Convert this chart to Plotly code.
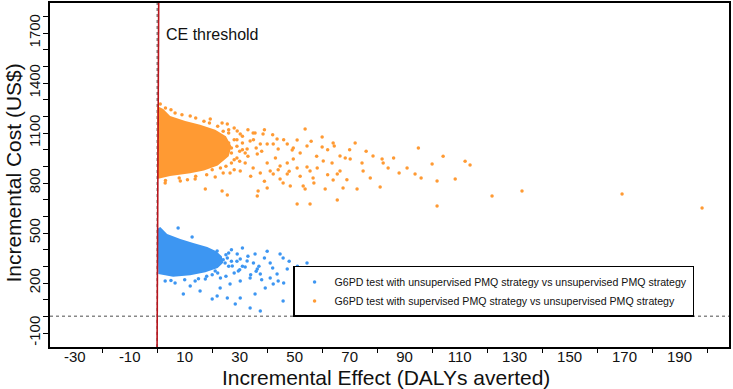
import plotly.graph_objects as go

# ---------------- data ----------------
series_names = [
    "G6PD test with unsupervised PMQ strategy vs unsupervised PMQ strategy",
    "G6PD test with supervised PMQ strategy vs unsupervised PMQ strategy",
]

# dense core envelope of each simulation cloud (effect, cost)
blue_core_x = [0, 1.1, 3.6, 8.4, 13.1, 18.2, 21.5, 23.5, 24.0, 22.0, 17.5, 12.0, 5.8, 0.4]
blue_core_y = [524, 536, 494, 464, 440, 416, 390, 360, 322, 290, 264, 246, 238, 254]

orange_core_x = [0, 2.2, 4.7, 10.2, 15.6, 21.1, 25.0, 27.0, 26.0, 22.0, 17.0, 12.0, 4.7, 0]
orange_core_y = [1262, 1244, 1202, 1172, 1150, 1120, 1080, 1020, 960, 905, 875, 858, 842, 824]

# individual simulations outside the dense core
blue_x = [7.6, 12.7, 21.8, 25.5, 29.1, 30.2, 32.7, 35.6, 41.1, 44.7, 45.8, 47.3, 54.5, 36.4,
          37.5, 33.8, 30.2, 26.5, 22.9, 20.0, 21.8, 15.6, 9.5, 12.0, 28.4, 33.8, 37.5, 42.2,
          44.0, 45.8, 41.1, 43.6, 50.2, 68.4, 35.6, 30.2, 25.5, 39.3, 24.7, 27.3, 21.1, 17.5,
          13.8, 6.5, 2.9, 29.5, 32.0,
          27, 29, 31, 33, 35, 37, 39, 42, 48, 51, 28, 30, 34, 38, 46, 52, 55, 58, 25, 23,
          26, 31, 40, 36, 24, 26, 22, 20, 18, 15, 10, 5, 27, 25]
blue_y = [530, 476, 392, 350, 374, 344, 332, 374, 320, 374, 350, 284, 320, 284,
          254, 230, 212, 194, 170, 104, 122, 152, 134, 182, 74, 50, 32, 194,
          212, 92, 230, 254, 32, 20, 134, 110, 110, 170, 320, 302, 272, 224,
          212, 200, 212, 272, 296,
          400, 330, 300, 360, 320, 300, 350, 290, 330, 300, 260, 280, 250, 220, 200, 170, 260, 280, 240, 230,
          380, 410, 390, 270, 340, 300, 260, 250, 240, 225, 220, 215, 330, 370]

orange_x = [53.8, 60.0, 64.0, 64.4, 60.0, 54.5, 50.9, 47.3, 49.5, 49.1, 43.6, 42.2, 44.0, 38.5,
            35.6, 40.0, 66.5, 68.4, 70.2, 60.4, 63.6, 74.5, 78.5, 81.8, 82.2, 84.0, 90.9, 93.8,
            100.0, 101.8, 74.9, 77.5, 81.1, 66.5, 65.5, 64.0, 61.1, 67.6, 72.7, 53.1, 53.8, 50.9,
            55.6, 65.5, 101.8, 17.5, 23.6, 25.5, 36.4, 36.7, 40.0, 44.7, 45.8, 48.4, 47.3, 54.5,
            55.6, 58.2, 56.7, 25.5, 29.1, 30.2, 34.9, 33.8, 37.5, 32.7, 36.4, 40.0, 34.9, 30.2,
            37.5, 41.1, 42.2, 44.7, 47.3, 49.5, 50.9, 132.7, 169.1, 198.2, 121.8, 113.8, 108.4,
            2.9, 8.4, 13.8, 21.1, 26.5, 1.1, 6.5, 12.0, 19.3, 23.6,
            28, 31, 33, 27, 29, 32, 35, 38, 39, 42, 43, 46, 48, 52, 56, 58, 62, 70, 72, 76,
            86, 95, 104, 112, 28, 24, 34, 39, 44, 52, 57, 62, 69, 88, 96, 31, 33, 36, 26, 27, 29,
            22, 24, 26, 28, 29, 30, 28, 27, 25, 23, 20, 31, 32, 30, 26, 19, 17, 14, 9, 5, 3,
            8, 14, 18, 3, 11]
orange_y = [1124, 1076, 1040, 1022, 1016, 1022, 1058, 1034, 1010, 998, 1064, 1034, 1004, 1094,
            1100, 1034, 962, 950, 944, 932, 920, 920, 962, 944, 920, 890, 890, 854,
            914, 812, 872, 830, 776, 872, 854, 818, 764, 770, 764, 782, 764, 674,
            674, 698, 662, 764, 752, 728, 722, 752, 770, 824, 800, 782, 854, 896,
            872, 890, 830, 1154, 1112, 1094, 1100, 1052, 1034, 1004, 974, 920, 890, 872,
            860, 872, 854, 902, 920, 944, 890, 752, 734, 650, 722, 908, 824,
            800, 812, 824, 836, 860, 1274, 1220, 1202, 1184, 1160,
            1130, 1080, 1120, 1010, 950, 920, 1060, 990, 1120, 1090, 950, 1060, 870, 980, 1050, 960, 1000, 1000, 1040, 990,
            950, 1010, 960, 930, 880, 860, 840, 810, 880, 840, 800, 850, 820, 860, 830, 1000, 960, 1010, 1040, 980, 1060,
            1140, 1110, 1100, 1060, 1020, 990, 940, 920, 900, 890, 880, 1040, 980, 930, 1120, 1160, 1170, 1190, 1210, 1240, 1250,
            830, 840, 850, 815, 820]

x_tick_marks = [-20, 0, 20, 40, 60, 80, 100, 120, 140, 160, 180, 200]
x_tick_labels = [-30, -10, 10, 30, 50, 70, 90, 110, 130, 150, 170, 190]
y_tick_labels = [-100, 200, 500, 800, 1100, 1400, 1700]
y_tick_marks = list(range(-100, 1801, 100))
wtp_threshold = 3500  # slope of the CE threshold line (US$ per DALY)

# ---------------- styling ----------------
BLUE = "#3D96F2"
ORANGE = "#FF9A33"
FONT = "Liberation Sans, Arial, sans-serif"
x_range = [-39, 208]
y_range = [-184, 1880]

fig = go.Figure()

fig.add_trace(go.Scatter(x=blue_core_x, y=blue_core_y, fill="toself", mode="lines",
                         line=dict(width=0, color=BLUE), fillcolor=BLUE,
                         showlegend=False, hoverinfo="skip"))
fig.add_trace(go.Scatter(x=orange_core_x, y=orange_core_y, fill="toself", mode="lines",
                         line=dict(width=0, color=ORANGE), fillcolor=ORANGE,
                         showlegend=False, hoverinfo="skip"))
fig.add_trace(go.Scatter(x=blue_x, y=blue_y, mode="markers", name=series_names[0],
                         marker=dict(color=BLUE, size=3.5, line=dict(width=0))))
fig.add_trace(go.Scatter(x=orange_x, y=orange_y, mode="markers", name=series_names[1],
                         marker=dict(color=ORANGE, size=3.5, line=dict(width=0))))
# invisible trace that carries the tick-mark axis
fig.add_trace(go.Scatter(x=[x_range[0]], y=[y_range[0]], xaxis="x2", mode="markers",
                         marker=dict(size=0.1, opacity=0), showlegend=False, hoverinfo="skip"))

# reference lines
fig.add_shape(type="line", x0=x_range[0], x1=x_range[1], y0=0, y1=0, xref="x", yref="y",
              line=dict(color="#888888", width=1.5, dash="dot"), layer="below")
fig.add_shape(type="line", x0=0, x1=0, y0=y_range[0], y1=y_range[1], xref="x", yref="y",
              line=dict(color="#888888", width=1.5, dash="dot"), layer="below")
fig.add_shape(type="line", x0=y_range[0] / wtp_threshold, x1=y_range[1] / wtp_threshold,
              y0=y_range[0], y1=y_range[1], xref="x", yref="y",
              line=dict(color="#B8141C", width=1.6))

fig.add_annotation(x=2.6, y=1694, xref="x", yref="y", text="CE threshold", showarrow=False,
                   xanchor="left", yanchor="middle", font=dict(family=FONT, size=16, color="#111"))

# axis titles
fig.add_annotation(x=0.495, y=-0.088, xref="paper", yref="paper",
                   text="Incremental Effect (DALYs averted)", showarrow=False,
                   xanchor="center", yanchor="middle", font=dict(family=FONT, size=21, color="#111"))
fig.add_annotation(x=-0.054, y=0.505, xref="paper", yref="paper", textangle=-90,
                   text="Incremental Cost (US$)", showarrow=False,
                   xanchor="center", yanchor="middle", font=dict(family=FONT, size=21, color="#111"))

fig.update_layout(
    width=733, height=389,
    margin=dict(l=50, r=4, t=3, b=42, autoexpand=False),
    paper_bgcolor="white", plot_bgcolor="white",
    font=dict(family=FONT, color="#111"),
    showlegend=True,
    legend=dict(x=0.358, y=0.2355, xanchor="left", yanchor="top",
                bgcolor="white", bordercolor="black", borderwidth=1.5,
                font=dict(family=FONT, size=10.6, color="#111"),
                itemwidth=30, tracegroupgap=0),
    xaxis=dict(range=x_range, showgrid=False, zeroline=False, automargin=False,
               showline=True, linecolor="black", linewidth=1.5, mirror=True,
               tickmode="array", tickvals=x_tick_labels, ticktext=[str(v) for v in x_tick_labels],
               ticks="", ticklabelstandoff=-5, tickfont=dict(family=FONT, size=15, color="#111")),
    xaxis2=dict(range=x_range, overlaying="x", side="bottom", anchor="y",
                showgrid=False, zeroline=False, automargin=False, showline=False,
                tickmode="array", tickvals=x_tick_marks, showticklabels=False,
                ticks="outside", ticklen=5, tickcolor="black", tickwidth=1),
    yaxis=dict(range=y_range, showgrid=False, zeroline=False, automargin=False,
               showline=True, linecolor="black", linewidth=1.5, mirror=True,
               tickmode="array", tickvals=y_tick_labels, ticktext=[str(v) for v in y_tick_labels],
               ticks="outside", ticklen=5, tickcolor="black", tickangle=-90,
               ticklabelstandoff=-3,
               tickfont=dict(family=FONT, size=15, color="#111"),
               minor=dict(tickvals=y_tick_marks, ticks="outside", ticklen=5, tickcolor="black", tickwidth=1)),
)

fig.write_html("out.html", config={"displayModeBar": False},
               post_script="document.body.style.margin='0px';document.body.style.overflow='hidden';")
